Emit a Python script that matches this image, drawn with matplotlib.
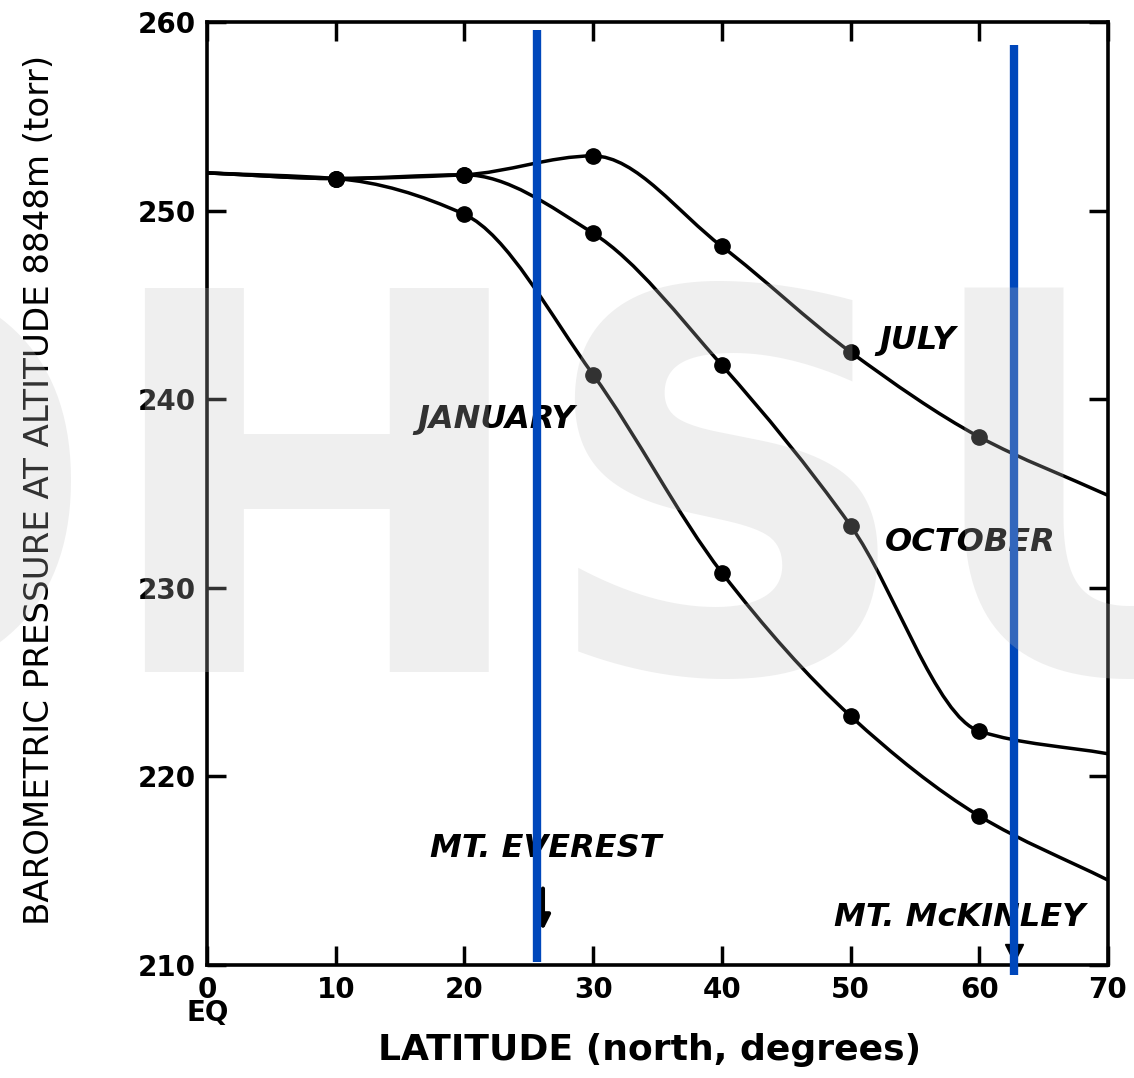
import numpy as np
import matplotlib
matplotlib.use("Agg")
import matplotlib.pyplot as plt
from matplotlib.path import Path
from matplotlib.patches import PathPatch

# latitude (deg north) and pressure at 8848 m (torr)
latitude = [0, 10, 20, 30, 40, 50, 60, 70]
january = [252.0, 251.7, 249.8, 241.3, 230.8, 223.2, 217.9, 214.5]
october = [252.0, 251.7, 251.9, 248.8, 241.8, 233.3, 222.4, 221.2]
july = [252.0, 251.7, 251.9, 252.9, 248.1, 242.5, 238.0, 234.9]
marker_lat = [10, 20, 30, 40, 50, 60]

month_labels = ["JANUARY", "OCTOBER", "JULY"]
label_pos = [(22.5, 238.9), (59.3, 232.4), (55.2, 243.1)]

everest_lat = 25.6
mckinley_lat = 62.7

xticks = [0, 10, 20, 30, 40, 50, 60, 70]
yticks = [210, 220, 230, 240, 250, 260]


def pchip_path(x, y):
    # monotone cubic through the points, drawn as bezier segments
    x = np.asarray(x, float)
    y = np.asarray(y, float)
    h = np.diff(x)
    d = np.diff(y) / h
    m = np.zeros_like(y)
    for i in range(1, len(x) - 1):
        if d[i - 1] * d[i] > 0:
            w1 = 2 * h[i] + h[i - 1]
            w2 = h[i] + 2 * h[i - 1]
            m[i] = (w1 + w2) / (w1 / d[i - 1] + w2 / d[i])
    m[0] = d[0]
    m[-1] = d[-1]
    verts = [(x[0], y[0])]
    codes = [Path.MOVETO]
    for i in range(len(x) - 1):
        verts += [(x[i] + h[i] / 3, y[i] + m[i] * h[i] / 3),
                  (x[i + 1] - h[i] / 3, y[i + 1] - m[i + 1] * h[i] / 3),
                  (x[i + 1], y[i + 1])]
        codes += [Path.CURVE4] * 3
    return Path(verts, codes)


fig = plt.figure(figsize=(11.34, 10.78), dpi=100)
ax = fig.add_axes([207 / 1134, 1 - 965 / 1078, 901 / 1134, 943 / 1078])

for series in [january, october, july]:
    ax.add_patch(PathPatch(pchip_path(latitude, series), fill=False,
                           lw=2.5, color="black", zorder=3))
    mk = [series[latitude.index(v)] for v in marker_lat]
    ax.plot(marker_lat, mk, "o", color="black", ms=11, zorder=4)

for name, (px, py) in zip(month_labels, label_pos):
    ax.text(px, py, name, ha="center", va="center", fontsize=23,
            style="italic", fontweight="bold")

ax.text(26.3, 216.2, "MT. EVEREST", ha="center", va="center", fontsize=23,
        style="italic", fontweight="bold")
ax.annotate("", xy=(26.1, 211.7), xytext=(26.1, 214.2),
            arrowprops=dict(arrowstyle="-|>", color="black", lw=3,
                            mutation_scale=22), zorder=4)
ax.text(58.5, 212.5, "MT. McKINLEY", ha="center", va="center", fontsize=23,
        style="italic", fontweight="bold")
ax.plot([mckinley_lat], [210.65], "v", color="black", ms=13, zorder=4)

# highlighted latitudes
ax.plot([everest_lat, everest_lat], [259.6, 210.15], color="#0047bb", lw=6,
        solid_capstyle="butt", clip_on=False, zorder=5)
ax.plot([mckinley_lat, mckinley_lat], [258.8, 209.45], color="#0047bb", lw=6,
        solid_capstyle="butt", clip_on=False, zorder=5)

ax.set_xlim(0, 70)
ax.set_ylim(210, 260)
ax.set_xticks(xticks)
ax.set_yticks(yticks)
ax.tick_params(direction="in", length=14, width=2.5, top=True, right=True,
               labelsize=20, pad=8)
for lab in ax.get_xticklabels() + ax.get_yticklabels():
    lab.set_fontweight("bold")
for sp in ax.spines.values():
    sp.set_linewidth(2.6)

fig.text(208 / 1134, 1 - 1013 / 1078, "EQ", ha="center", va="center",
         fontsize=20, fontweight="bold")
fig.text(650 / 1134, 1 - 1050 / 1078, "LATITUDE (north, degrees)",
         ha="center", va="center", fontsize=26, fontweight="bold")
fig.text(40 / 1134, 1 - 490 / 1078,
         "BAROMETRIC PRESSURE AT ALTITUDE 8848m (torr)",
         ha="center", va="center", rotation=90, fontsize=24.5)

# watermark laid over the scan
fig.text(-350 / 1134, 1 - 672 / 1078, "OHSU", ha="left", va="baseline",
         fontsize=379, fontweight="bold", color="#c2c2c2", alpha=0.26,
         zorder=10)

fig.savefig("out.png", dpi=100)
